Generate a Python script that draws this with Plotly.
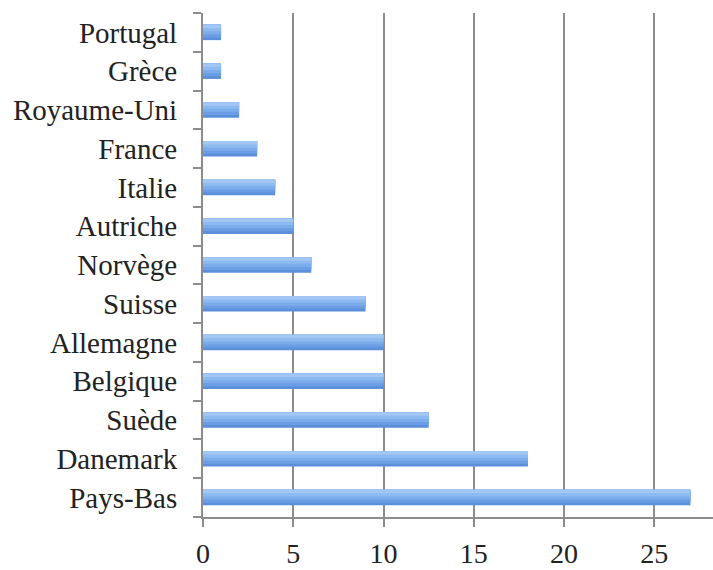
import plotly.graph_objects as go

# Data (bottom to top, as drawn)
countries = ["Pays-Bas", "Danemark", "Suède", "Belgique", "Allemagne", "Suisse",
             "Norvège", "Autriche", "Italie", "France", "Royaume-Uni", "Grèce", "Portugal"]
values = [27, 18, 12.5, 10, 10, 9, 6, 5, 4, 3, 2, 1, 1]
x_ticks = [0, 5, 10, 15, 20, 25]

# gradient bands: (offset, width, color) from bottom edge upward
bands = [
    (-0.20, 0.40, "#5b8fdb"),
    (-0.13, 0.33, "#6b9de4"),
    (-0.05, 0.25, "#7badeb"),
    (0.03, 0.17, "#8dbaf0"),
    (0.11, 0.09, "#a3c7f4"),
]

fig = go.Figure()
for off, w, col in bands:
    fig.add_trace(go.Bar(
        y=countries, x=values, orientation="h",
        offset=off, width=w,
        marker=dict(color=col, line=dict(width=0)),
        showlegend=False, hoverinfo="x+y",
    ))

grid_col = "#8c8c8c"
fig.update_layout(
    template="none",
    width=713, height=570,
    margin=dict(l=203, r=0, t=13, b=53, pad=0),
    paper_bgcolor="white", plot_bgcolor="white",
    barmode="overlay",
    font=dict(family="Liberation Serif, Times New Roman, serif", size=29, color="#222222"),
    xaxis=dict(
        range=[0, 28.25], tickvals=x_ticks, ticktext=[str(v) for v in x_ticks],
        tickfont=dict(size=28),
        showgrid=True, gridcolor=grid_col, gridwidth=2,
        showline=True, linecolor=grid_col, linewidth=2,
        ticks="outside", ticklen=8, tickwidth=2, tickcolor=grid_col,
        ticklabelstandoff=2, automargin=False,
        zeroline=False, layer="above traces", fixedrange=True,
    ),
    yaxis=dict(
        type="category", categoryorder="array", categoryarray=countries,
        showgrid=False,
        showline=True, linecolor=grid_col, linewidth=2,
        ticks="outside", tickson="boundaries", ticklen=8, tickwidth=2, tickcolor=grid_col,
        ticklabelstandoff=18, automargin=False,
        range=[-0.5, len(countries) - 0.5],
        zeroline=False, layer="above traces", fixedrange=True,
    ),
)

fig.write_html(
    "out.html",
    config={"displayModeBar": False},
    post_script="document.body.style.margin='0';document.body.style.overflow='hidden';",
)
